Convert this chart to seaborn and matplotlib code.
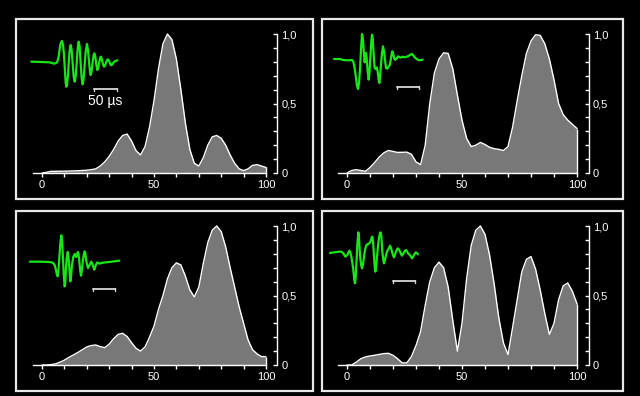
import numpy as np
import matplotlib
matplotlib.use("Agg")
import matplotlib.pyplot as plt
import seaborn as sns
from matplotlib.patches import Rectangle
from matplotlib.lines import Line2D
from matplotlib.ticker import FixedLocator

# --- data ----------------------------------------------------------------
x_vals = list(range(0, 101, 2))

spectrum_a = [0.0, 0.005, 0.012, 0.012, 0.013, 0.013, 0.014, 0.015, 0.016, 0.018,
              0.02, 0.024, 0.03, 0.05, 0.08, 0.12, 0.17, 0.23, 0.27, 0.28,
              0.23, 0.16, 0.13, 0.19, 0.33, 0.52, 0.75, 0.93, 1.0, 0.96,
              0.82, 0.6, 0.36, 0.17, 0.07, 0.05, 0.11, 0.2, 0.26, 0.27,
              0.25, 0.2, 0.13, 0.07, 0.03, 0.017, 0.03, 0.055, 0.06, 0.05, 0.04]
spectrum_b = [0.0, 0.018, 0.024, 0.018, 0.012, 0.04, 0.075, 0.115, 0.145, 0.162,
              0.155, 0.148, 0.149, 0.15, 0.135, 0.08, 0.06, 0.2, 0.5, 0.72,
              0.82, 0.865, 0.86, 0.75, 0.56, 0.38, 0.25, 0.19, 0.2, 0.22,
              0.205, 0.185, 0.175, 0.17, 0.162, 0.19, 0.33, 0.52, 0.7, 0.86,
              0.95, 0.995, 0.99, 0.93, 0.82, 0.67, 0.5, 0.42, 0.38, 0.35, 0.32]
spectrum_c = [0.0, 0.0, 0.003, 0.008, 0.02, 0.035, 0.055, 0.072, 0.09, 0.11,
              0.13, 0.14, 0.144, 0.132, 0.125, 0.15, 0.19, 0.22, 0.228, 0.205,
              0.16, 0.12, 0.1, 0.13, 0.2, 0.28, 0.4, 0.5, 0.62, 0.7,
              0.735, 0.72, 0.64, 0.54, 0.49, 0.56, 0.73, 0.88, 0.97, 1.0,
              0.96, 0.85, 0.7, 0.56, 0.42, 0.3, 0.18, 0.11, 0.08, 0.06, 0.06]
spectrum_d = [0.0, 0.0, 0.02, 0.045, 0.058, 0.065, 0.07, 0.076, 0.082, 0.084,
              0.07, 0.045, 0.015, 0.015, 0.06, 0.14, 0.24, 0.43, 0.6, 0.7,
              0.74, 0.7, 0.56, 0.32, 0.1, 0.3, 0.62, 0.86, 0.97, 1.0,
              0.94, 0.79, 0.58, 0.34, 0.16, 0.075, 0.27, 0.47, 0.67, 0.76,
              0.78, 0.69, 0.54, 0.37, 0.22, 0.3, 0.47, 0.57, 0.59, 0.53, 0.44]

# waveforms (time, amplitude) in arbitrary units
wave_a_t = [10, 40, 65, 72, 78, 84, 88, 92, 96, 99, 102, 105, 108, 111, 113, 115,
            117, 120, 122, 125, 128, 131, 134, 137, 140, 143, 146, 149, 152, 155,
            158, 161, 164, 167, 170, 173, 177, 180, 183, 186, 188, 191, 194, 197,
            199, 202, 205, 208, 211, 214, 217, 219, 222, 225, 228, 231, 235, 238,
            240, 243, 247, 250, 253, 257, 262, 268]
wave_a_v = [0, -1, -2, -4, -6, -4, 0, 15, 45, 58, 62, 52, 20, -30, -62, -75,
            -70, -40, -5, 35, 50, 35, -5, -45, -60, -45, -5, 40, 60, 45,
            -5, -50, -68, -50, -10, 30, 53, 35, 0, -30, -40, -28, 0, 20,
            25, 15, -10, -25, -18, 0, 13, 15, 5, -8, -15, -12, 0, 6,
            7, 2, -8, -11, -8, -2, 2, 4]
wave_b_t = [12, 30, 40, 55, 66, 70, 74, 78, 81, 84, 87, 90, 93, 96, 98, 101,
            104, 106, 108, 110, 113, 116, 118, 121, 124, 126, 128, 131, 134, 137,
            140, 143, 146, 148, 150, 153, 156, 159, 162, 165, 168, 172, 176, 180,
            184, 187, 190, 193, 196, 200, 204, 208, 212, 218, 224, 230, 236, 241,
            246, 250, 255, 260, 268, 278]
wave_b_v = [2, 2, -1, -2, -1, -6, -25, -55, -78, -88, -70, -30, 30, 77, 70, 30,
            -8, 10, 20, 5, -35, -60, -45, 5, 55, 75, 65, 15, -25, -28,
            -23, -35, -60, -70, -55, -15, 20, 40, 25, 0, -25, -27, -20, -15,
            12, 25, 15, 2, 0, 3, 10, 8, 6, 9, 7, 9, 11, 15,
            17, 13, 6, 2, -2, 0]
wave_c_t = [12, 40, 70, 80, 86, 90, 93, 95, 97, 100, 103, 106, 108, 111, 113, 116,
            118, 120, 122, 125, 127, 130, 133, 135, 138, 142, 146, 149, 151, 154,
            156, 158, 161, 163, 165, 167, 170, 173, 176, 178, 181, 184, 186, 189,
            192, 196, 200, 203, 205, 207, 210, 214, 220, 230, 250, 265, 280]
wave_c_v = [0, 0, -1, -3, -10, -25, -40, -44, -30, 11, 55, 79, 65, 11, -35, -74,
            -60, -19, 10, 29, 20, -20, -59, -45, -9, 15, 23, 15, 14, 25,
            29, 20, -9, -30, -42, -30, -4, 20, 31, 25, 1, -12, -19, -14,
            -7, 0, -9, -18, -24, -18, -9, -2, -6, -3, -1, 1, 3]
wave_d_t = [12, 25, 40, 46, 52, 58, 64, 67, 70, 73, 76, 79, 82, 85, 87, 89,
            92, 94, 97, 99, 102, 105, 108, 111, 114, 117, 120, 123, 126, 130,
            134, 137, 139, 141, 144, 146, 148, 150, 153, 156, 159, 162, 164, 166,
            169, 172, 174, 177, 180, 184, 188, 192, 195, 198, 201, 204, 207, 210,
            213, 216, 219, 222, 225, 228, 231, 234, 237, 240, 243, 246, 249, 252,
            255, 258, 261, 264, 267, 270, 273, 276]
wave_d_v = [-1, 1, 3, 3, -2, -12, -7, 0, 6, 0, -12, -30, -52, -82, -92, -75,
            -17, 25, 61, 45, -7, -35, -47, -35, -12, 8, 20, 25, 25, 28,
            35, 45, 48, 35, -10, -40, -57, -45, -12, 20, 45, 58, 61, 50,
            3, -22, -32, -22, -7, 5, 12, 21, 14, 3, -8, -14, -5, 3,
            10, 13, 9, 3, -4, -9, -4, 1, 6, 8, 4, -2, -5, -7,
            -12, -17, -13, -7, -2, 1, -2, -5]

y_ticks = [0, 0.5, 1.0]
y_tick_labels = ["0", "0,5", "1,0"]
y_minor = [0.1, 0.2, 0.3, 0.4, 0.6, 0.7, 0.8, 0.9]
x_ticks = [0, 50, 100]
x_tick_labels = ["0", "50", "100"]
x_minor = [10, 20, 30, 40, 60, 70, 80, 90]
scale_label = "50 \u00b5s"

# --- layout (pixels in a 640x396 canvas) ----------------------------------
W, H = 640, 396
frames = [(16, 19, 313, 199), (322, 19, 623, 199), (16, 211, 313, 391), (322, 211, 623, 391)]
# x pixel of 0 and 100, y pixel of 0 and 1
anchors = [(42, 266, 173, 34), (347, 577, 173, 34), (42, 266, 365, 226), (347, 577, 365, 226)]
wave_boxes = [(28, 30, 100, 80, 95), (330, 28, 100, 70, 95), (26, 228, 100, 70, 101), (326, 225, 100, 65, 83)]
bars = [(94, 117, 89), (397, 419, 87), (93, 115, 289), (393, 415, 281)]

sns.set_theme(style="ticks", rc={"figure.facecolor": "black", "axes.facecolor": "none",
                                 "savefig.facecolor": "black"})
plt.rcParams["font.family"] = ["Liberation Sans", "DejaVu Sans"]

fig = plt.figure(figsize=(W / 100, H / 100), dpi=100)


def frac(x0, y0, x1, y1):
    return [x0 / W, 1 - y1 / H, (x1 - x0) / W, (y1 - y0) / H]


XL, XR, YB, YT = -8, 110, -0.08, 1.06
spectra = [spectrum_a, spectrum_b, spectrum_c, spectrum_d]
waves = [(wave_a_t, wave_a_v), (wave_b_t, wave_b_v), (wave_c_t, wave_c_v), (wave_d_t, wave_d_v)]

for i in range(4):
    fx0, fy0, fx1, fy1 = frames[i]
    fig.add_artist(Rectangle((fx0 / W, 1 - fy1 / H), (fx1 - fx0) / W, (fy1 - fy0) / H,
                             transform=fig.transFigure, fill=False, ec="#e8e8e8", lw=1.6))

    a0, a100, b0, b1 = anchors[i]
    sx = (a100 - a0) / 100
    sy = (b0 - b1)
    ax = fig.add_axes(frac(a0 + XL * sx, b0 - YT * sy, a0 + XR * sx, b0 - YB * sy))
    ax.patch.set_alpha(0)

    ys = spectra[i]
    ax.fill_between(x_vals, 0, ys, color="#787878", lw=0)
    sns.lineplot(x=x_vals, y=ys, ax=ax, color="white", lw=1)
    ax.vlines(x_vals[-1], 0, ys[-1], color="white", lw=1)
    ax.set_xlim(XL, XR)
    ax.set_ylim(YB, YT)

    for s in ["top", "left"]:
        ax.spines[s].set_visible(False)
    ax.spines["bottom"].set_position(("data", 0))
    ax.spines["bottom"].set_bounds(-4, 100)
    ax.spines["right"].set_position(("data", 105))
    ax.spines["right"].set_bounds(0, 1)
    for s in ["bottom", "right"]:
        ax.spines[s].set_color("white")
        ax.spines[s].set_linewidth(1)

    ax.yaxis.tick_right()
    ax.set_yticks(y_ticks, y_tick_labels)
    ax.yaxis.set_minor_locator(FixedLocator(y_minor))
    ax.set_xticks(x_ticks, x_tick_labels)
    ax.xaxis.set_minor_locator(FixedLocator(x_minor))
    ax.tick_params(axis="y", which="both", direction="in", length=3, width=1,
                   colors="white", labelsize=8, pad=3)
    ax.tick_params(axis="x", which="both", direction="out", length=3, width=1,
                   colors="white", labelsize=8, pad=2)
    ax.set_xlabel("")
    ax.set_ylabel("")

    # green waveform inset
    ox, oy, ow, oh, base = wave_boxes[i]
    wax = fig.add_axes(frac(ox, oy, ox + ow, oy + oh))
    wt, wv = waves[i]
    wax.plot(wt, wv, color="#19e619", lw=1.6)
    wax.set_xlim(0, ow * 3)
    wax.set_ylim(base - oh * 3, base)
    wax.axis("off")

    # scale bar
    bx0, bx1, by = bars[i]
    fig.add_artist(Line2D([bx0 / W, bx1 / W], [1 - by / H, 1 - by / H],
                          transform=fig.transFigure, color="#d8d8d8", lw=1.3))
    for bx in (bx0, bx1):
        fig.add_artist(Line2D([bx / W, bx / W], [1 - (by - 1.5) / H, 1 - (by + 1.5) / H],
                              transform=fig.transFigure, color="#d8d8d8", lw=1))

fig.text(105 / W, 1 - 101 / H, scale_label, color="white", fontsize=10,
         ha="center", va="center")

fig.savefig("out.png", dpi=100, facecolor="black")
